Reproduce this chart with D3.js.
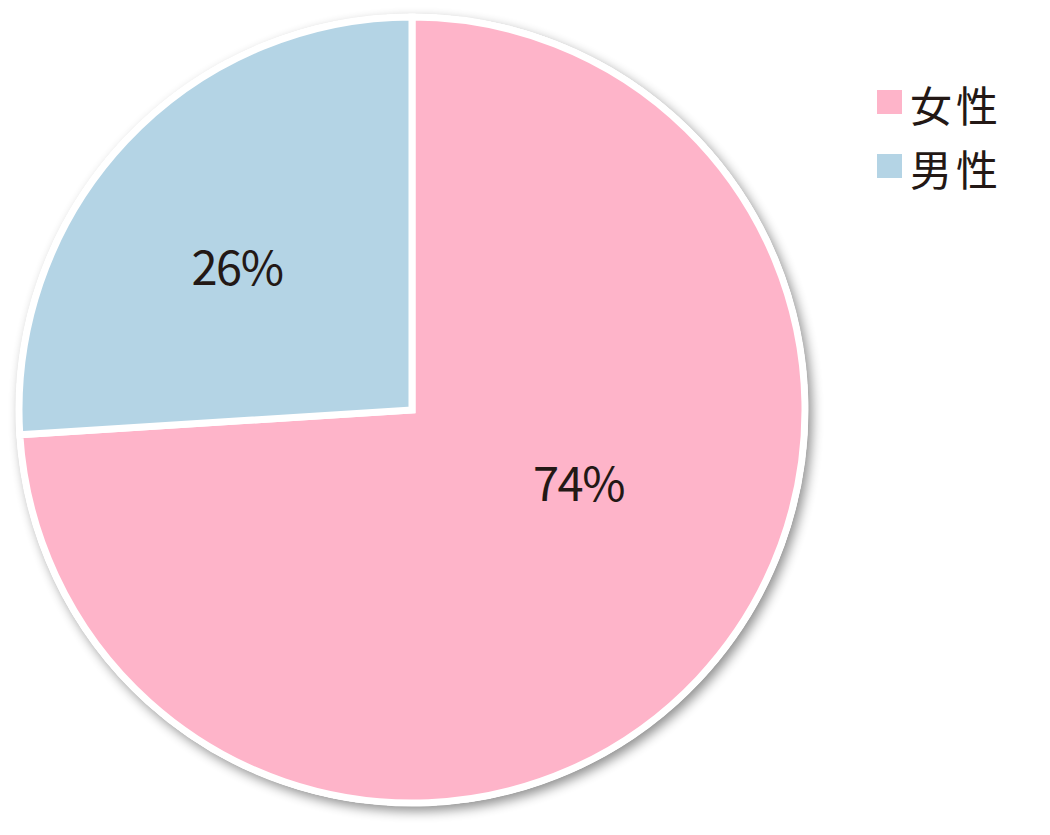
<!DOCTYPE html>
<html><head><meta charset="utf-8">
<script src="https://cdn.jsdelivr.net/npm/d3@7"></script>
<style>
html,body{margin:0;padding:0;background:#ffffff;}
svg{display:block;}
</style></head>
<body>
<script>
const categories = ["女性", "男性"];
const values = [74, 26];
const labels = ["74%", "26%"];
const colors = ["#FEB4C9", "#B4D4E5"];

const W = 1050, H = 835;
const cx = 412, cy = 410, R = 393;
const svg = d3.select("body").append("svg").attr("width", W).attr("height", H);

const defs = svg.append("defs");
const f = defs.append("filter").attr("id", "sh").attr("x", "-10%").attr("y", "-10%").attr("width", "120%").attr("height", "120%");
f.append("feGaussianBlur").attr("in", "SourceAlpha").attr("stdDeviation", 6).attr("result", "b");
f.append("feOffset").attr("in", "b").attr("dx", 4).attr("dy", 5).attr("result", "o");
f.append("feComponentTransfer").attr("in", "o").attr("result", "o2")
  .append("feFuncA").attr("type", "linear").attr("slope", 0.45);
const m = f.append("feMerge");
m.append("feMergeNode").attr("in", "o2");
m.append("feMergeNode").attr("in", "SourceGraphic");

const g = svg.append("g").attr("transform", `translate(${cx},${cy})`);
g.append("circle").attr("r", R + 3).attr("fill", "#ffffff").attr("filter", "url(#sh)");

const pie = d3.pie().sort(null).value(d => d);
const arcs = pie(values);
const arc = d3.arc().innerRadius(0).outerRadius(R);

g.selectAll("path.slice").data(arcs).enter().append("path")
  .attr("class", "slice")
  .attr("d", arc)
  .attr("fill", (d, i) => colors[i])
  .attr("stroke", "#ffffff")
  .attr("stroke-width", 7)
  .attr("stroke-linejoin", "miter");

// label placement: fraction along slice angle, fraction of radius
const labelPos = [[0.424, 0.46], [0.464, 0.58]];
g.selectAll("text.lbl").data(arcs).enter().append("text")
  .attr("class", "lbl")
  .attr("x", (d, i) => { const a = d.startAngle + (d.endAngle - d.startAngle) * labelPos[i][0]; return Math.sin(a) * R * labelPos[i][1]; })
  .attr("y", (d, i) => { const a = d.startAngle + (d.endAngle - d.startAngle) * labelPos[i][0]; return -Math.cos(a) * R * labelPos[i][1]; })
  .attr("text-anchor", "middle")
  .attr("dominant-baseline", "central")
  .attr("font-family", "'Noto Sans CJK JP','Noto Sans',sans-serif")
  .attr("font-size", 47)
  .attr("letter-spacing", -1.5)
  .attr("fill", "#231815")
  .text((d, i) => labels[i]);

const lg = svg.append("g").attr("transform", "translate(877,90)");
const items = lg.selectAll("g").data(categories).enter().append("g")
  .attr("transform", (d, i) => `translate(0,${i * 64})`);
items.append("rect").attr("width", 25).attr("height", 24).attr("fill", (d, i) => colors[i]);
items.append("text").attr("x", 33).attr("y", 13)
  .attr("dominant-baseline", "central")
  .attr("font-family", "'Noto Sans CJK JP',sans-serif")
  .attr("font-size", 42)
  .attr("letter-spacing", 4)
  .attr("fill", "#231815")
  .text(d => d);
</script>
</body></html>
